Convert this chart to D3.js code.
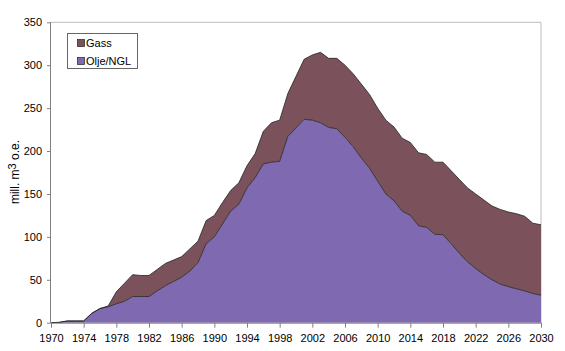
<!DOCTYPE html>
<html><head><meta charset="utf-8">
<script src="https://cdn.jsdelivr.net/npm/d3@7"></script>
<style>
html,body{margin:0;padding:0;background:#fff;}
svg{display:block;font-family:"Liberation Sans",Arial,Helvetica,sans-serif;}
</style></head>
<body>
<svg id="c" width="565" height="351"></svg>
<script>
const years = d3.range(1970, 2031);
const xTickLabels = [1970,1974,1978,1982,1986,1990,1994,1998,2002,2006,2010,2014,2018,2022,2026,2030];
const yTicks = [0,50,100,150,200,250,300,350];
const seriesNames = ["Gass","Olje/NGL"];
const seriesColors = ["#7b515b","#7f69b0"];
const oil = [0,0.4,2,2,2,11,16.5,18.5,22,25,30.5,30.5,30.5,37,43,48,53,60,70,92,
  100,115,130,138,157,169,185,187,188,217,227,237,236,233,227.5,226,216,205,192,180,
  165,150,142,130,125,113,111,103,102.5,92,81,71,63,56,50,45,42,39.5,37,34,32];
const gas = [0,0,0,0,0,0,0,1,14,21,25.5,24.5,24.5,25,26,25,24,26,25,27,
  25,25,24,25,26,28,38,46,48,50,60,70,76,82,80.5,82,84,85,86,86,
  85,86,86,85,85,85,85,84,84.5,85,86,86,87,87,86,87,87,87.5,87,82,82];

const svg = d3.select("#c");
const m = {l:51, r:541, t:22.3, b:322.7};
const x = d3.scaleLinear().domain([1970,2030]).range([m.l,m.r]);
const y = d3.scaleLinear().domain([0,350]).range([m.b,m.t]);

const rows = years.map((yr,i)=>({year:yr, oil:oil[i], gas:gas[i]}));
const stack = d3.stack().keys(["oil","gas"])(rows);

// plot border (top & right)
svg.append("path")
  .attr("d", `M${m.l},${m.t}H${m.r}V${m.b}`)
  .attr("fill","none").attr("stroke","#bdbdbd").attr("stroke-width",1);

const area = d3.area().x(d=>x(d.data.year)).y0(d=>y(d[0])).y1(d=>y(d[1]));
const line = d3.line().x(d=>x(d.data.year)).y(d=>y(d[1]));
const colorByKey = {oil:seriesColors[1], gas:seriesColors[0]};
stack.forEach(s=>{
  svg.append("path").datum(s).attr("d",area).attr("fill",colorByKey[s.key]).attr("stroke","none");
});
stack.forEach(s=>{
  svg.append("path").datum(s).attr("d",line).attr("fill","none")
    .attr("stroke","#222").attr("stroke-width",0.8);
});

// y axis
const yAxis = d3.axisLeft(y).tickValues(yTicks).tickSize(4).tickPadding(5);
const gy = svg.append("g").attr("transform",`translate(${m.l},0)`).call(yAxis);
gy.select(".domain").attr("stroke","#808080").attr("d",`M-0.5,${m.t}V${m.b}`);
gy.selectAll(".tick line").attr("stroke","#808080");
gy.selectAll("text").attr("font-size","11px").attr("fill","#000");

// x axis
const xAxis = d3.axisBottom(x).tickValues(xTickLabels).tickFormat(d3.format("d")).tickSize(5).tickPadding(7);
const gx = svg.append("g").attr("transform",`translate(0,${m.b})`).call(xAxis);
gx.select(".domain").attr("stroke","#808080").attr("d",`M${m.l},0.5H${m.r}`);
gx.selectAll(".tick line").attr("stroke","#808080");
gx.selectAll("text").attr("font-size","11px").attr("fill","#000");

// axis title
const t = svg.append("text").attr("transform","translate(19,172) rotate(-90)")
  .attr("text-anchor","middle").attr("font-size","12px").attr("fill","#000");
t.append("tspan").text("mill. m");
t.append("tspan").text("3").attr("font-size","11px").attr("dy","-3");
t.append("tspan").text(" o.e.").attr("dy","3");

// legend
const lg = svg.append("g");
lg.append("rect").attr("x",67.5).attr("y",33.5).attr("width",70).attr("height",35)
  .attr("fill","#fff").attr("stroke","#666");
seriesNames.forEach((n,i)=>{
  const yy = 43 + i*18;
  lg.append("rect").attr("x",77.5).attr("y",yy-3.5).attr("width",7).attr("height",7)
    .attr("fill",seriesColors[i]).attr("stroke","#222").attr("stroke-width",0.7);
  lg.append("text").attr("x",86).attr("y",yy+4).attr("font-size","11px").text(n);
});
</script>
</body></html>
